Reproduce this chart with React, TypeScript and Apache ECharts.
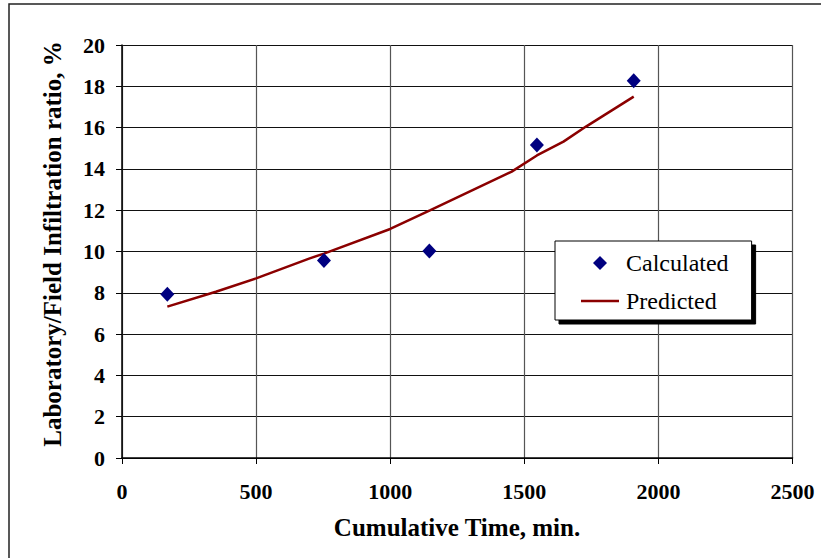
import React, { useEffect, useRef } from "react";
import * as echarts from "echarts";

const calcX = [169, 753, 1146, 1547, 1908];
const calcY = [7.93, 9.57, 10.02, 15.16, 18.27];

const predX = [169, 350, 500, 700, 753, 1000, 1150, 1453, 1547, 1646, 1730, 1908];
const predY = [7.33, 8.05, 8.7, 9.67, 9.9, 11.09, 12.0, 13.87, 14.65, 15.32, 16.05, 17.5];

const xTitle = "Cumulative Time, min.";
const yTitle = "Laboratory/Field Infiltration ratio, %";
const seriesNames = ["Calculated", "Predicted"];

const FONT = "Liberation Serif";

export default function App() {
  const ref = useRef<HTMLDivElement>(null);
  useEffect(() => {
    if (!ref.current) return;
    const chart = echarts.init(ref.current, undefined, { renderer: "svg" });
    const labelStyle = {
      fontFamily: FONT,
      fontWeight: "bold" as const,
      fontSize: 22,
      color: "#000",
      formatter: (v: number) => String(v),
    };
    chart.setOption({
      animation: false,
      backgroundColor: "#fff",
      grid: { left: 122, top: 45, right: 28.5, bottom: 100, containLabel: false },
      xAxis: {
        type: "value",
        min: 0,
        max: 2500,
        interval: 500,
        axisLine: { show: true, lineStyle: { color: "#000", width: 1.5 } },
        axisTick: { show: true, length: 6, lineStyle: { color: "#000" } },
        axisLabel: { ...labelStyle, margin: 22 },
        splitLine: { show: true, lineStyle: { color: "#555", width: 1.2 } },
      },
      yAxis: {
        type: "value",
        min: 0,
        max: 20,
        interval: 2,
        axisLine: { show: true, lineStyle: { color: "#000", width: 1.5 } },
        axisTick: { show: true, length: 6, lineStyle: { color: "#000" } },
        axisLabel: { ...labelStyle, margin: 17 },
        splitLine: { show: true, lineStyle: { color: "#111", width: 1.2 } },
      },
      legend: {
        orient: "vertical",
        left: 555,
        top: 241,
        padding: [10, 23, 7, 26],
        itemGap: 14,
        itemWidth: 38,
        itemHeight: 14,
        symbolKeepAspect: true,
        backgroundColor: "#fff",
        borderColor: "#000",
        borderWidth: 1,
        shadowColor: "#000",
        shadowBlur: 0,
        shadowOffsetX: 4,
        shadowOffsetY: 4,
        textStyle: { fontFamily: FONT, fontSize: 24, color: "#000", padding: [0, 0, 0, 2] },
        data: [
          {
            name: seriesNames[0],
            icon: "path://M7,0 L14,7 L7,14 L0,7 Z",
            itemStyle: { color: "#000080", opacity: 1 },
          },
          {
            name: seriesNames[1],
            icon: "path://M0,0 L38,0 L38,2.5 L0,2.5 Z",
            itemStyle: { color: "#8B0000", opacity: 1 },
          },
        ],
      },
      graphic: [
        {
          type: "rect",
          shape: { x: 9, y: 4, width: 830, height: 600 },
          style: { fill: "none", stroke: "#222", lineWidth: 1.5 },
          z: -1,
          silent: true,
        },
        {
          type: "text",
          x: 457,
          y: 527,
          style: {
            text: xTitle,
            font: `bold 25px ${FONT}`,
            fill: "#000",
            textAlign: "center",
            textVerticalAlign: "middle",
          },
        },
        {
          type: "text",
          x: 52,
          y: 244,
          rotation: Math.PI / 2,
          style: {
            text: yTitle,
            font: `bold 25px ${FONT}`,
            fill: "#000",
            textAlign: "center",
            textVerticalAlign: "middle",
          },
        },
      ],
      series: [
        {
          name: seriesNames[0],
          type: "scatter",
          symbol: "diamond",
          symbolSize: [14, 15],
          itemStyle: { color: "#000080", opacity: 1 },
          data: calcX.map((x, i) => [x, calcY[i]]),
          z: 3,
        },
        {
          name: seriesNames[1],
          type: "line",
          showSymbol: false,
          symbol: "none",
          lineStyle: { color: "#8B0000", width: 2.5 },
          itemStyle: { color: "#8B0000" },
          data: predX.map((x, i) => [x, predY[i]]),
          z: 2,
        },
      ],
    });
    return () => chart.dispose();
  }, []);
  return <div ref={ref} style={{ width: 821, height: 558, position: "absolute", left: 0, top: 0 }} />;
}
